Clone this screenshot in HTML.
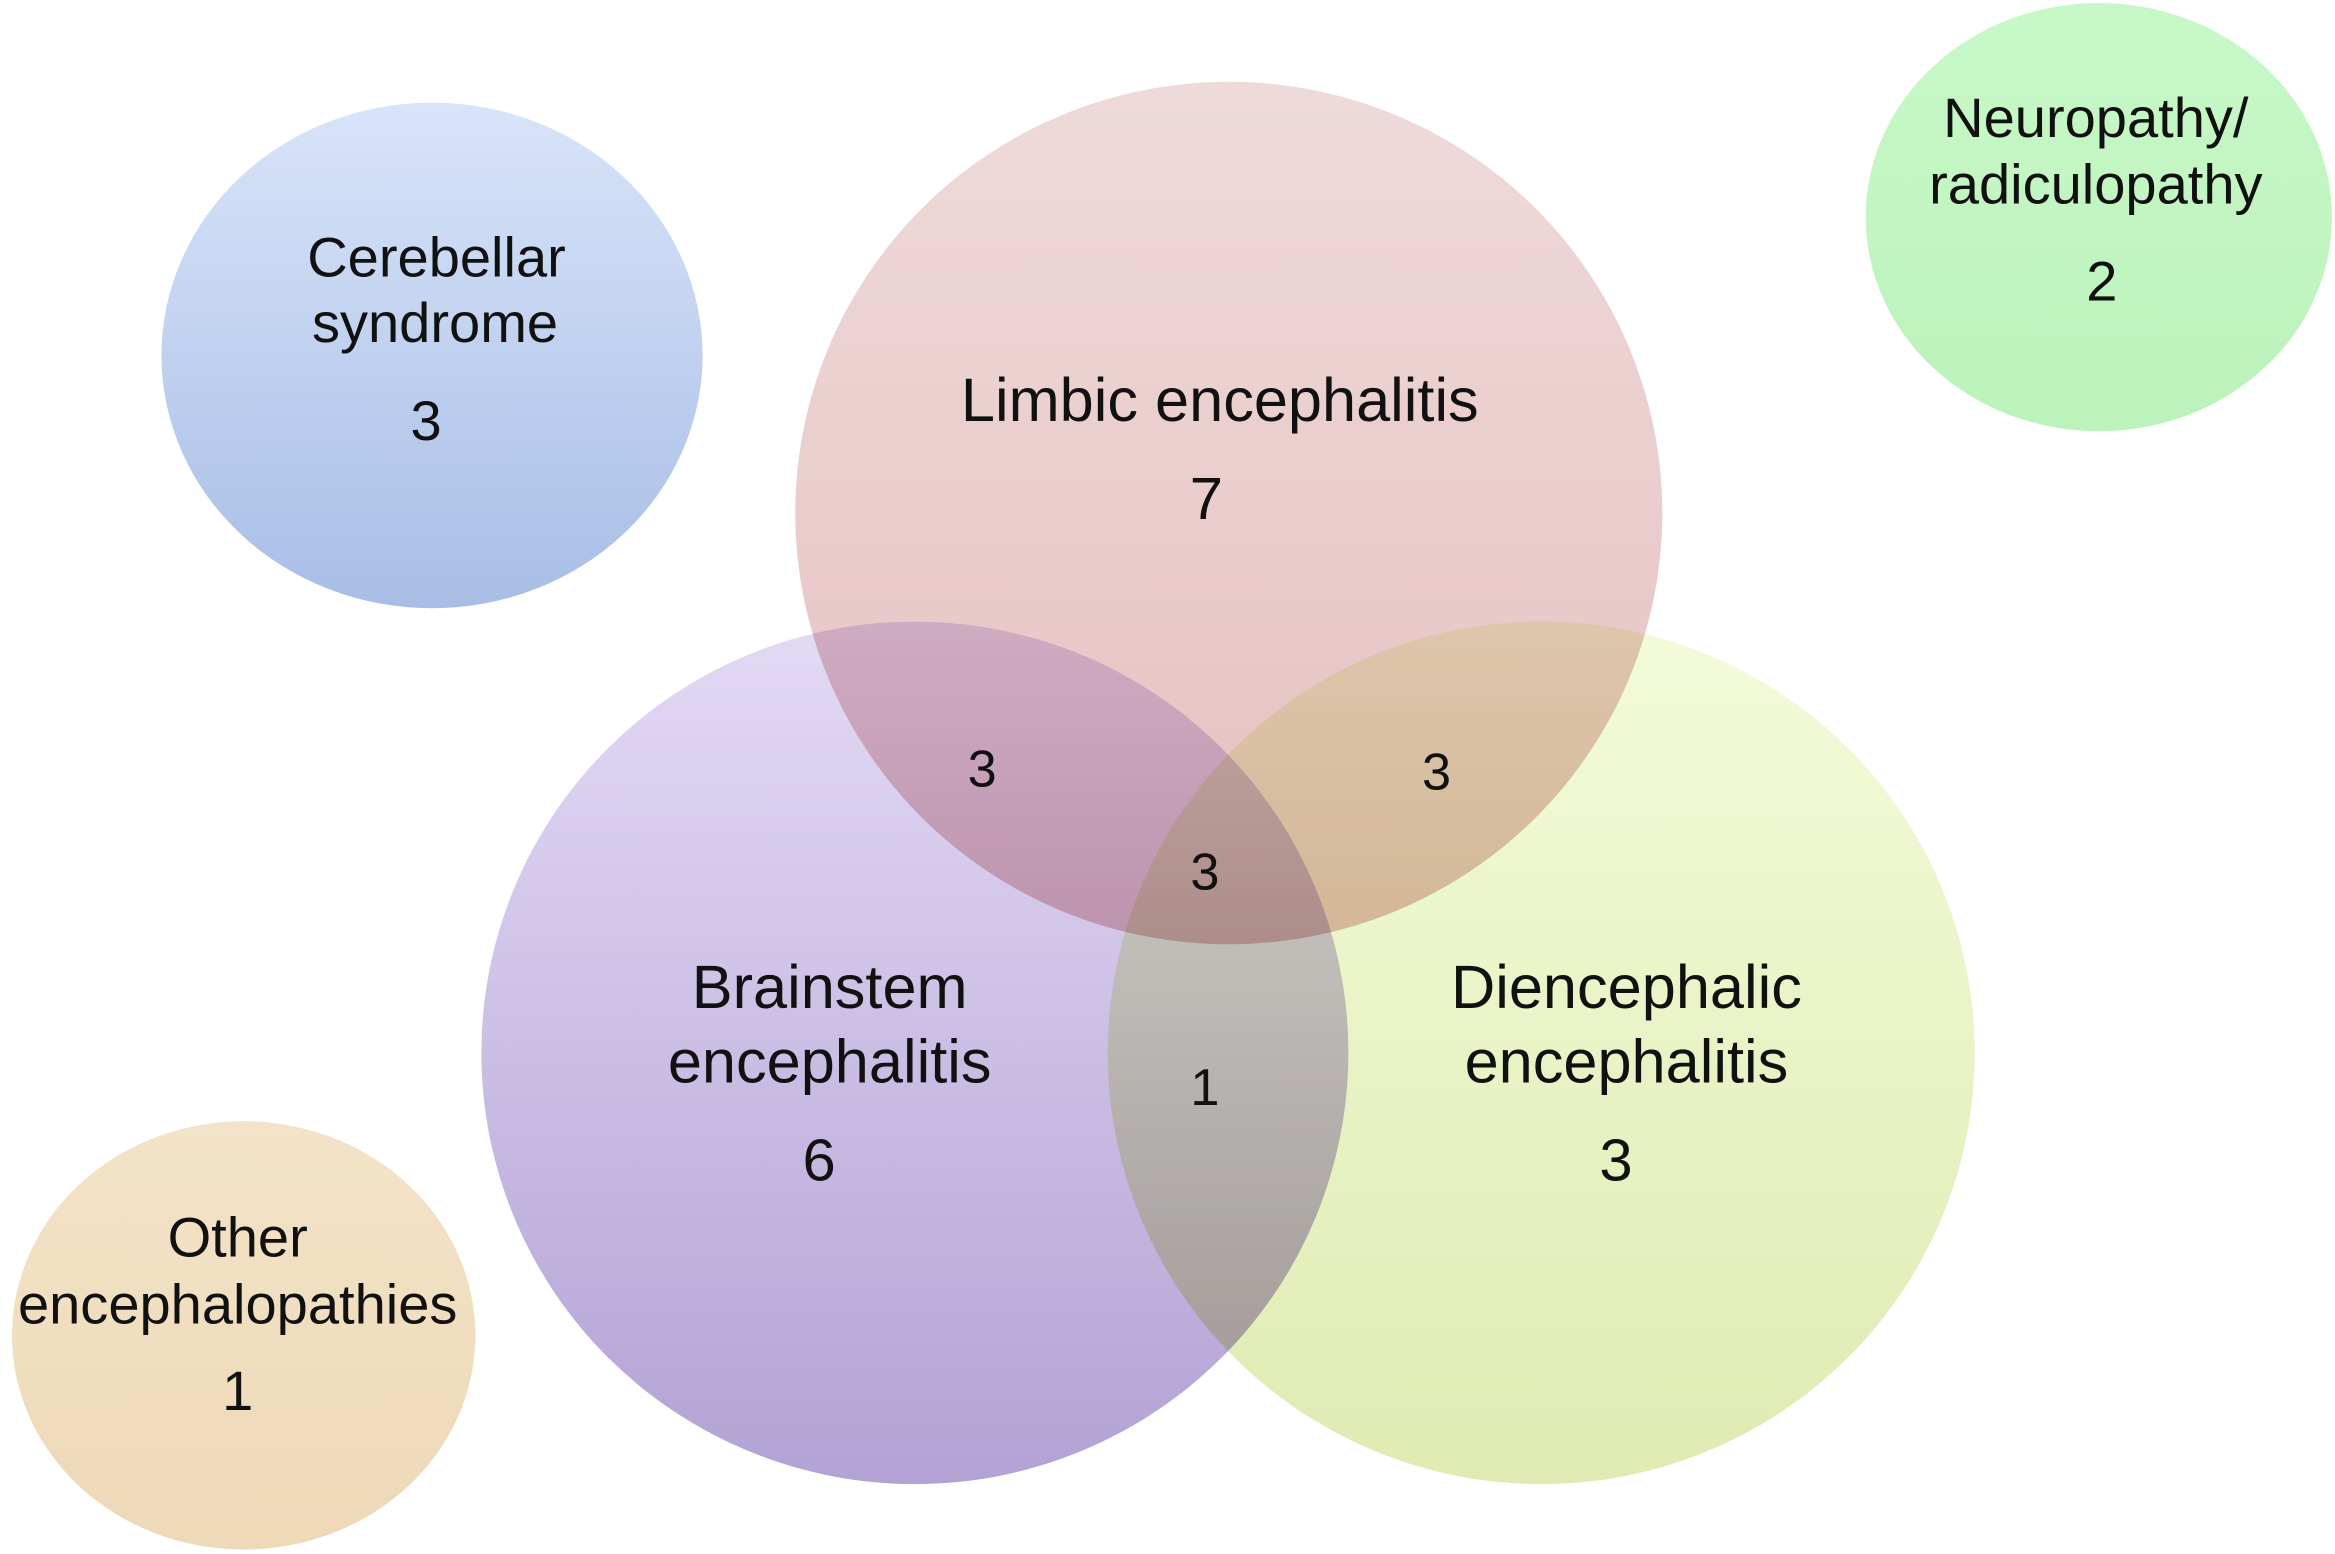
<!DOCTYPE html>
<html><head><meta charset="utf-8"><style>html,body{margin:0;padding:0;background:#fff}svg{display:block}.m{mix-blend-mode:multiply}</style></head>
<body>
<svg width="2335" height="1554" viewBox="0 0 1562 1045" preserveAspectRatio="none" xmlns="http://www.w3.org/2000/svg" font-family="Liberation Sans, Arial, sans-serif" fill="#111">
<defs>
<linearGradient id="gb" x1="0" y1="0" x2="0" y2="1"><stop offset="0" stop-color="#d8e4f9"/><stop offset="1" stop-color="#a8bee6"/></linearGradient>
<linearGradient id="gl" x1="0" y1="0" x2="0" y2="1"><stop offset="0" stop-color="#e9cccc"/><stop offset="1" stop-color="#dca6a6"/></linearGradient>
<linearGradient id="gp" x1="0" y1="0" x2="0" y2="1"><stop offset="0" stop-color="#e3daf5"/><stop offset="1" stop-color="#b3a2d4"/></linearGradient>
<linearGradient id="gd" x1="0" y1="0" x2="0" y2="1"><stop offset="0" stop-color="#effad0"/><stop offset="1" stop-color="#d6e69c"/></linearGradient>
<linearGradient id="gn" x1="0" y1="0" x2="0" y2="1"><stop offset="0" stop-color="#c8f8c8"/><stop offset="1" stop-color="#bcf2bc"/></linearGradient>
<linearGradient id="go" x1="0" y1="0" x2="0" y2="1"><stop offset="0" stop-color="#f3e3c8"/><stop offset="1" stop-color="#eed9b8"/></linearGradient>
</defs>
<ellipse cx="289" cy="239" rx="181" ry="170" fill="url(#gb)"/>
<ellipse cx="1404" cy="146" rx="156" ry="144" fill="url(#gn)"/>
<ellipse cx="163" cy="898" rx="155" ry="144" fill="url(#go)"/>
<circle cx="612" cy="708" r="290" fill="url(#gp)"/>
<circle class="m" cx="1031" cy="708" r="290" fill="url(#gd)" opacity="0.78"/>
<circle class="m" cx="822" cy="345" r="290" fill="url(#gl)" opacity="0.72"/>
<g text-anchor="middle" font-size="37.5">
<text x="292" y="186">Cerebellar</text><text x="291" y="230">syndrome</text><text x="285" y="296">3</text>
<text x="1402" y="92">Neuropathy/</text><text x="1402" y="137">radiculopathy</text><text x="1406" y="202">2</text>
<text x="159" y="845">Other</text><text x="159" y="890">encephalopathies</text><text x="159" y="948">1</text>
<text x="816" y="283" font-size="41">Limbic encephalitis</text><text x="807" y="349" font-size="40">7</text>
<text x="555" y="678" font-size="41">Brainstem</text><text x="555" y="728" font-size="41">encephalitis</text><text x="548" y="794" font-size="40">6</text>
<text x="1088" y="678" font-size="41">Diencephalic</text><text x="1088" y="728" font-size="41">encephalitis</text><text x="1081" y="794" font-size="40">3</text>
<text x="657" y="529" font-size="35">3</text><text x="961" y="531" font-size="35">3</text>
<text x="806" y="598" font-size="35">3</text><text x="806" y="743" font-size="35">1</text>
</g>
</svg>
</body></html>
